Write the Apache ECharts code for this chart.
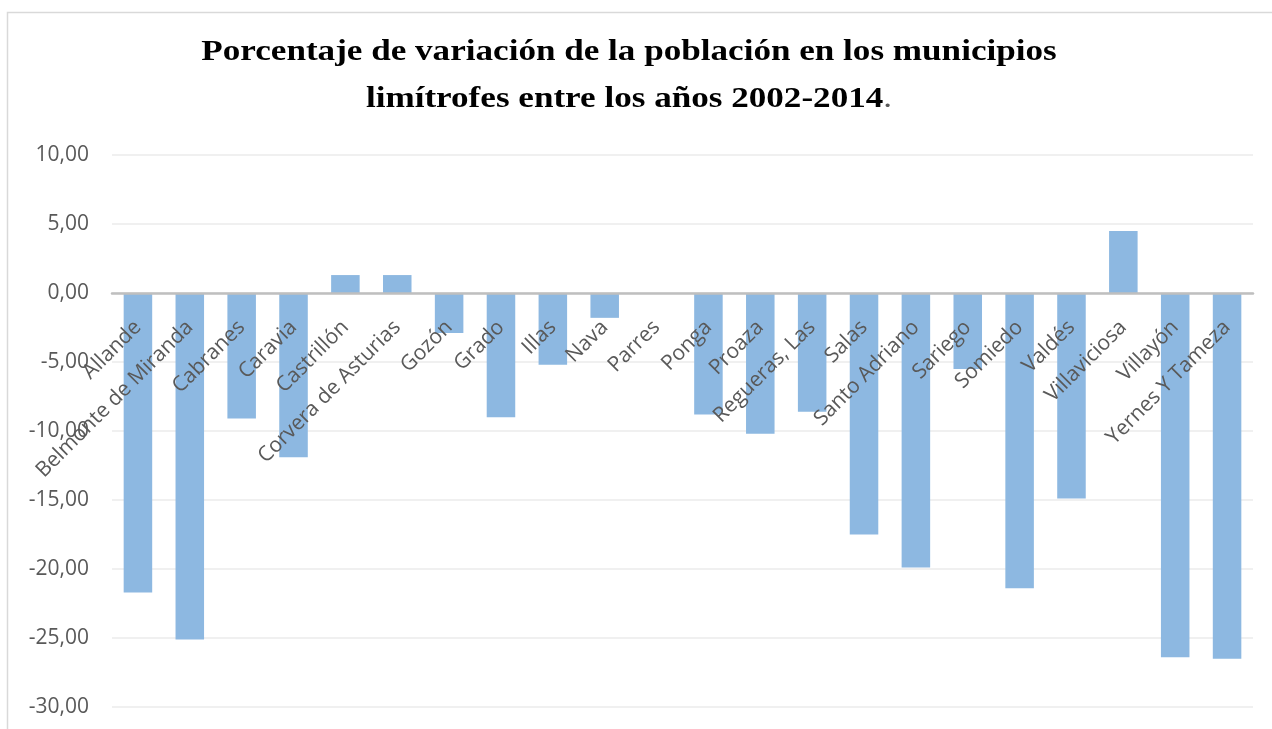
<!DOCTYPE html>
<html>
<head>
<meta charset="utf-8">
<script src="https://cdn.jsdelivr.net/npm/echarts@6/dist/echarts.min.js"></script>
<style>
  html, body { margin: 0; padding: 0; background: #fff; }
  #main { width: 1272px; height: 729px; }
</style>
</head>
<body>
<div id="main"></div>
<script>
// municipios limitrofes
var municipios = [
  'Allande', 'Belmonte de Miranda', 'Cabranes', 'Caravia', 'Castrillón',
  'Corvera de Asturias', 'Gozón', 'Grado', 'Illas', 'Nava', 'Parres',
  'Ponga', 'Proaza', 'Regueras, Las', 'Salas', 'Santo Adriano', 'Sariego',
  'Somiedo', 'Valdés', 'Villaviciosa', 'Villayón', 'Yernes Y Tameza'
];
// % variacion 2002-2014
var variacion = [
  -21.7, -25.1, -9.1, -11.9, 1.3,
  1.3, -2.9, -9.0, -5.2, -1.8, 0,
  -8.8, -10.2, -8.6, -17.5, -19.9, -5.5,
  -21.4, -14.9, 4.5, -26.4, -26.5
];
var yMin = -30, yMax = 10, yStep = 5;

var gridTop = 155, gridBottom = 22;
var plotH = 729 - gridTop - gridBottom;
// put the category axis on the zero line
var zeroOffset = -plotH * (0 - yMin) / (yMax - yMin);

var chart = echarts.init(document.getElementById('main'));

chart.setOption({
  animation: false,
  backgroundColor: '#fff',
  graphic: [{
    type: 'rect',
    shape: { x: 7.5, y: 12.5, width: 1300, height: 800 },
    style: { fill: 'none', stroke: '#d9d9d9', lineWidth: 1.5 },
    silent: true
  }, {
    type: 'text',
    x: 629,
    y: 29,
    scaleX: 1.17,
    silent: true,
    style: {
      text: 'Porcentaje de variación de la población en los municipios\nlimítrofes entre los años 2002-2014{p|.}',
      textAlign: 'center',
      textVerticalAlign: 'top',
      fontFamily: '"Liberation Serif", "Times New Roman", serif',
      fontWeight: 'bold',
      fontSize: 30,
      lineHeight: 47,
      fill: '#000',
      rich: {
        p: {
          fontFamily: '"Liberation Serif", serif',
          fontWeight: 'normal',
          fontSize: 30,
          lineHeight: 47,
          fill: '#595959'
        }
      }
    }
  }],
  grid: {
    left: 112,
    right: 19,
    top: gridTop,
    bottom: gridBottom,
    outerBoundsMode: 'none'
  },
  xAxis: {
    type: 'category',
    data: municipios,
    position: 'bottom',
    offset: zeroOffset,
    z: 5,
    axisLine: {
      onZero: false,
      lineStyle: { color: '#bfbfbf', width: 2.5 }
    },
    axisTick: { show: false },
    axisLabel: {
      interval: 0,
      rotate: 45,
      margin: 31,
      fontFamily: '"Open Sans", sans-serif',
      fontSize: 21,
      color: '#595959'
    },
    splitLine: { show: false }
  },
  yAxis: {
    type: 'value',
    min: yMin,
    max: yMax,
    interval: yStep,
    axisLine: { show: false },
    axisTick: { show: false },
    axisLabel: {
      margin: 23,
      fontFamily: '"Open Sans", sans-serif',
      fontSize: 21,
      color: '#595959',
      formatter: function (v) { return v.toFixed(2).replace('.', ','); }
    },
    splitLine: { lineStyle: { color: '#f0f0f0', width: 2 } }
  },
  series: [{
    type: 'bar',
    data: variacion,
    barCategoryGap: '45%',
    itemStyle: { color: '#8db8e1' }
  }]
});
</script>
</body>
</html>
